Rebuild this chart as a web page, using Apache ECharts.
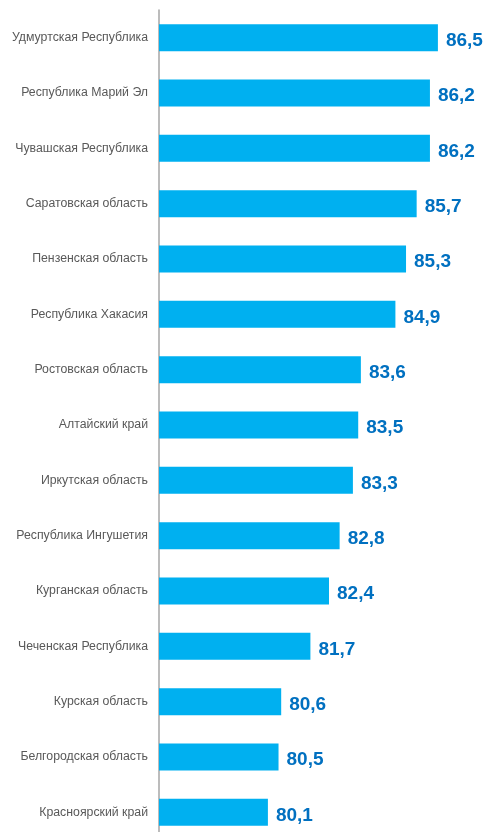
<!DOCTYPE html>
<html>
<head>
<meta charset="utf-8">
<script src="https://cdn.jsdelivr.net/npm/echarts@6/dist/echarts.min.js"></script>
<style>
  html, body { margin: 0; padding: 0; background: #fff; }
  #chart { width: 487px; height: 832px; }
</style>
</head>
<body>
<div id="chart"></div>
<script>
// regions, top to bottom
const regions = [
  'Удмуртская Республика',
  'Республика Марий Эл',
  'Чувашская Республика',
  'Саратовская область',
  'Пензенская область',
  'Республика Хакасия',
  'Ростовская область',
  'Алтайский край',
  'Иркутская область',
  'Республика Ингушетия',
  'Курганская область',
  'Чеченская Республика',
  'Курская область',
  'Белгородская область',
  'Красноярский край'
]
const values = [86.5, 86.2, 86.2, 85.7, 85.3, 84.9, 83.6, 83.5, 83.3, 82.8, 82.4, 81.7, 80.6, 80.5, 80.1]

const myChart = echarts.init(document.getElementById('chart'))
myChart.setOption({
  animation: false,
  grid: {
    left: 159,
    top: 10,
    width: 318.75,
    height: 830,
    outerBoundsMode: 'none'
  },
  xAxis: {
    type: 'value',
    min: 76,
    max: 88,
    show: false
  },
  yAxis: {
    type: 'category',
    inverse: true,
    data: regions,
    axisLine: { lineStyle: { color: '#A6A6A6', width: 1.5 } },
    axisTick: { show: false },
    axisLabel: {
      color: '#595959',
      fontFamily: 'Liberation Sans',
      fontSize: 12.3,
      margin: 11
    }
  },
  series: [{
    type: 'bar',
    data: values,
    barWidth: 27,
    itemStyle: { color: '#00B0F0' },
    label: {
      show: true,
      position: 'right',
      distance: 8,
      offset: [0, 3],
      color: '#0070C0',
      fontFamily: 'Liberation Sans',
      fontWeight: 'bold',
      fontSize: 19,
      formatter: p => p.value.toFixed(1).replace('.', ',')
    }
  }]
})
</script>
</body>
</html>
